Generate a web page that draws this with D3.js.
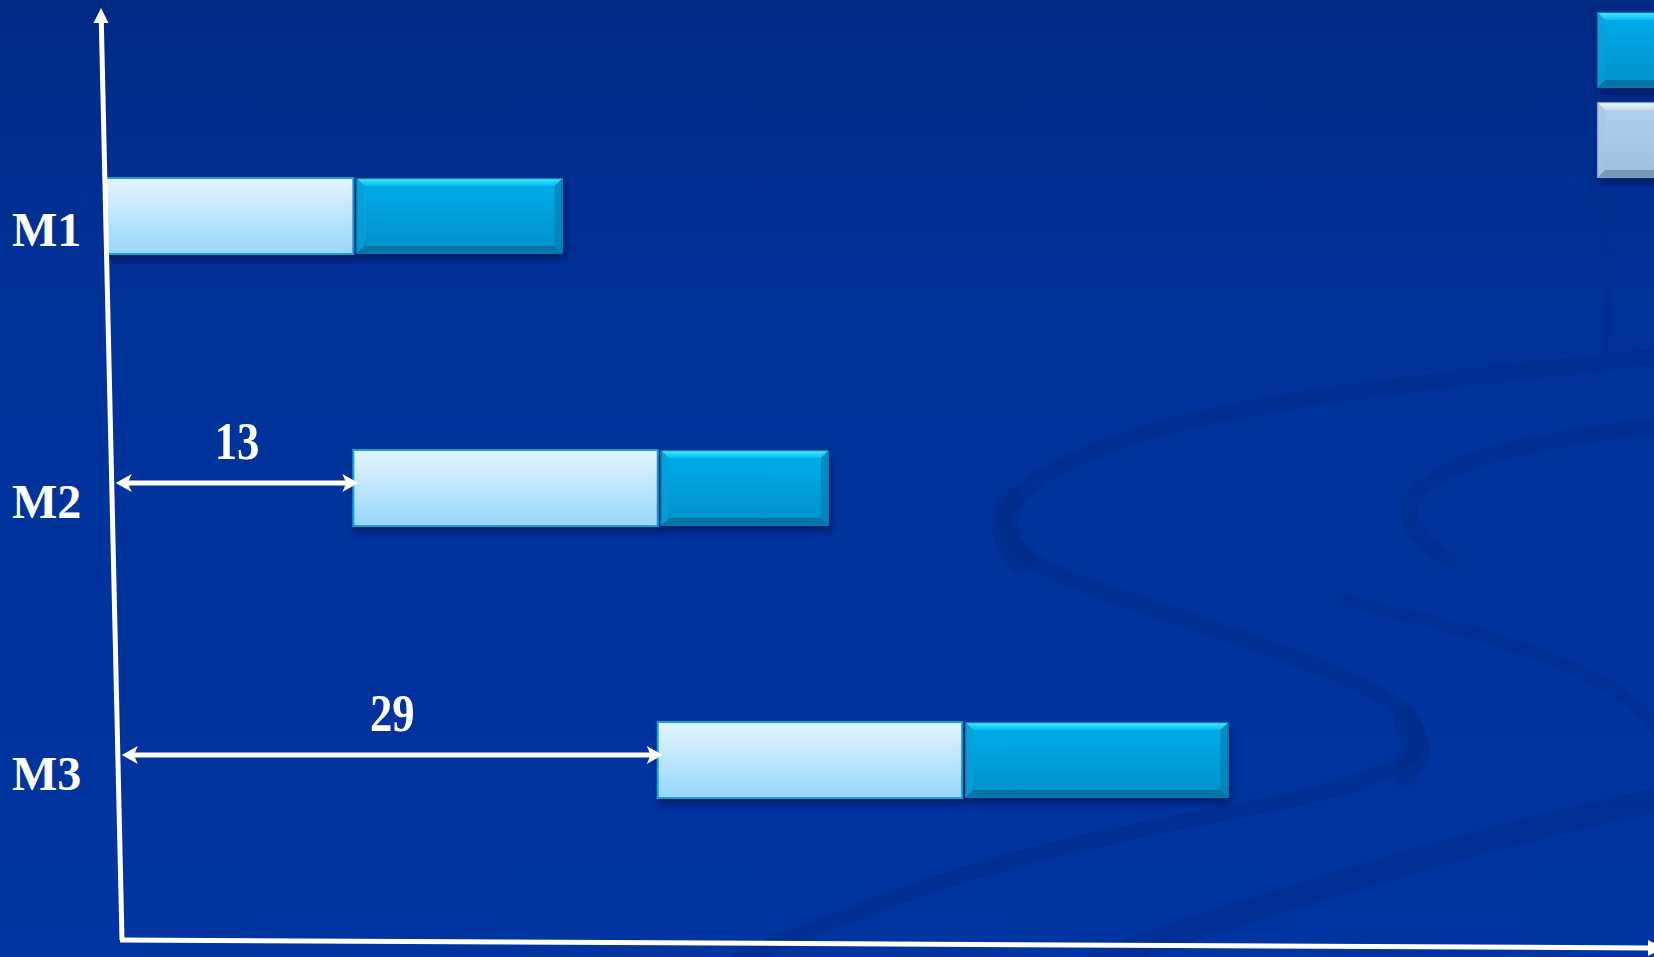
<!DOCTYPE html>
<html>
<head>
<meta charset="utf-8">
<script src="https://cdn.jsdelivr.net/npm/d3@7/dist/d3.min.js"></script>
<style>
  body { margin: 0; background: #00319a; overflow: hidden; }
  text { font-family: "Times New Roman", "Liberation Serif", serif; font-weight: bold; fill: #fff; }
</style>
</head>
<body>
<div id="chart"></div>
<script>
// rows of the chart and the time spans of each bar (in time units)
const machines = ["M1", "M2", "M3"];
const lightStart = [0, 13, 29];
const lightEnd = [13, 29, 45];
const darkStart = [13, 29, 45];
const darkEnd = [24, 38, 59];
// the two legend swatches at the top right (their labels fall off the slide)
const legendKeys = ["dark", "light"];

const width = 1654, height = 957;
const barH = 76;

let svg = d3.select("#chart").append("svg")
    .attr("width", width)
    .attr("height", height);

let x = d3.scaleLinear()
    .domain([0, 80])
    .range([106, 1628]);

let y = d3.scalePoint()
    .domain(machines)
    .range([216, 760]);

// the vertical axis leans a little to the right
let axisAt = d3.scaleLinear()
    .domain([8, 940])
    .range([101, 122]);

let defs = svg.append("defs");

function vGrad(id, stops) {
    let g = defs.append("linearGradient").attr("id", id)
        .attr("x1", 0).attr("y1", 0).attr("x2", 0).attr("y2", 1);
    stops.forEach(s => g.append("stop").attr("offset", s[0]).attr("stop-color", s[1]));
}
vGrad("bg", [[0, "#012a85"], [0.35, "#00329a"], [1, "#0034a0"]]);
vGrad("lightFill", [[0, "#e3f5fd"], [1, "#97d6fb"]]);
vGrad("darkFill", [[0, "#05aeec"], [1, "#038fca"]]);
vGrad("darkTop", [[0, "#3ef2ff"], [1, "#0cb8f0"]]);
vGrad("greyFill", [[0, "#b4d2ee"], [1, "#9fbedb"]]);
vGrad("greyTop", [[0, "#f0f8ff"], [1, "#c2dcf2"]]);

let shadow = defs.append("filter").attr("id", "shadow")
    .attr("x", "-5%").attr("y", "-20%").attr("width", "115%").attr("height", "160%");
shadow.append("feDropShadow")
    .attr("dx", 2).attr("dy", 5).attr("stdDeviation", 3)
    .attr("flood-color", "#001450").attr("flood-opacity", 0.7);

// background
svg.append("rect")
    .attr("width", width).attr("height", height)
    .attr("fill", "url(#bg)");

// faint swirls in the background
let swirl = d3.line().curve(d3.curveBasis);
let swirls = [
    { w: 16, o: 0.35, p: [[1700, 352], [1264, 398], [1085, 448], [1008, 497], [999, 528], [1030, 565], [1100, 592], [1219, 630], [1354, 678], [1412, 712], [1424, 745], [1395, 772], [1300, 800], [1174, 822], [950, 872], [738, 960]] },
    { w: 26, o: 0.3, p: [[1010, 500], [1000, 530], [1020, 560]] },
    { w: 24, o: 0.3, p: [[1405, 720], [1425, 750], [1405, 775]] },
    { w: 16, o: 0.3, p: [[1700, 420], [1534, 441], [1444, 468], [1402, 504], [1414, 536], [1450, 560]] },
    { w: 12, o: 0.25, p: [[1340, 600], [1450, 625], [1560, 660], [1640, 700], [1680, 760]] },
    { w: 24, o: 0.3, p: [[1700, 790], [1500, 835], [1264, 905], [1100, 960]] },
    { w: 6, o: 0.2, p: [[1600, 205], [1610, 260], [1606, 350]] }
];
swirls.forEach(s => {
    svg.append("path")
        .attr("d", swirl(s.p))
        .attr("fill", "none")
        .attr("stroke", "#00287e")
        .attr("stroke-opacity", s.o)
        .attr("stroke-width", s.w)
        .attr("stroke-linecap", "round");
});

// box with bevelled edges
function bevelBox(x0, y0, w, h, c) {
    let b = 8;
    let g = svg.append("g");
    g.append("rect")
        .attr("x", x0).attr("y", y0)
        .attr("width", w).attr("height", h)
        .attr("fill", c.fill)
        .attr("filter", "url(#shadow)");
    let faces = [
        [[[x0, y0], [x0 + w, y0], [x0 + w - b, y0 + b], [x0 + b, y0 + b]], c.top, 1],
        [[[x0, y0 + h], [x0 + w, y0 + h], [x0 + w - b, y0 + h - b], [x0 + b, y0 + h - b]], c.bottom, 0.8],
        [[[x0, y0], [x0 + b, y0 + b], [x0 + b, y0 + h - b], [x0, y0 + h]], c.left, 0.6],
        [[[x0 + w, y0], [x0 + w - b, y0 + b], [x0 + w - b, y0 + h - b], [x0 + w, y0 + h]], c.right, 0.7]
    ];
    faces.forEach(f => {
        g.append("path")
            .attr("d", "M" + f[0].join("L") + "Z")
            .attr("fill", f[1])
            .attr("opacity", f[2]);
    });
    g.append("rect")
        .attr("x", x0 + 0.5).attr("y", y0 + 0.5)
        .attr("width", w - 1).attr("height", h - 1)
        .attr("fill", "none")
        .attr("stroke", c.edge)
        .attr("stroke-width", 1.2);
}

let darkStyle = { fill: "url(#darkFill)", top: "url(#darkTop)", bottom: "#066b9a", left: "#0a9ed6", right: "#067fb5", edge: "#0a78aa" };
let greyStyle = { fill: "url(#greyFill)", top: "url(#greyTop)", bottom: "#6f8eae", left: "#a6c4e2", right: "#86a6c6", edge: "#7f9dbd" };

// bars
for (let i = 0; i < machines.length; i++) {
    let yc = y(machines[i]);
    let top = yc - barH / 2;

    // light bar
    svg.append("rect")
        .attr("x", x(lightStart[i]))
        .attr("y", top)
        .attr("width", x(lightEnd[i]) - x(lightStart[i]))
        .attr("height", barH)
        .attr("fill", "url(#lightFill)")
        .attr("stroke", "#15a0d8")
        .attr("stroke-width", 2)
        .attr("filter", "url(#shadow)");

    // dark bar
    bevelBox(x(darkStart[i]) + 3, top, x(darkEnd[i]) - x(darkStart[i]) - 3, barH, darkStyle);

    // machine label
    svg.append("text")
        .attr("x", 12)
        .attr("y", yc + 30)
        .attr("font-size", 48)
        .text(machines[i]);
}

// offset arrows from the axis to where each row starts
function arrowHead(tipX, ay, dir) {
    let l = 16, hw = 9;
    svg.append("path")
        .attr("d", `M${tipX},${ay}L${tipX - dir * l},${ay - hw}L${tipX - dir * (l - 4)},${ay}L${tipX - dir * l},${ay + hw}Z`)
        .attr("fill", "#fff");
}
for (let i = 0; i < machines.length; i++) {
    if (lightStart[i] <= 0) continue;
    let ay = y(machines[i]) - 5;
    let x1 = axisAt(ay) + 4;
    let x2 = x(lightStart[i]) + 5;
    svg.append("line")
        .attr("x1", x1 + 10).attr("y1", ay)
        .attr("x2", x2 - 10).attr("y2", ay)
        .attr("stroke", "#fff")
        .attr("stroke-width", 5);
    arrowHead(x1, ay, -1);
    arrowHead(x2, ay, 1);

    let mx = (x1 + x2) / 2;
    svg.append("text")
        .attr("transform", `translate(${mx},${ay - 24}) scale(0.86,1)`)
        .attr("text-anchor", "middle")
        .attr("font-size", 52)
        .text(lightStart[i]);
}

// axes
svg.append("line")
    .attr("x1", axisAt(22)).attr("y1", 22)
    .attr("x2", axisAt(940)).attr("y2", 940)
    .attr("stroke", "#fff")
    .attr("stroke-width", 5);
svg.append("path")
    .attr("d", `M${axisAt(8)},8L${axisAt(8) + 7.5},23L${axisAt(8) - 7.5},23Z`)
    .attr("fill", "#fff");

svg.append("line")
    .attr("x1", axisAt(940) - 2).attr("y1", 940)
    .attr("x2", 1650).attr("y2", 948)
    .attr("stroke", "#fff")
    .attr("stroke-width", 5);
svg.append("path")
    .attr("d", "M1664,948L1648,940L1648,956Z")
    .attr("fill", "#fff");

// legend swatches, cut off by the right edge
legendKeys.forEach((k, i) => {
    bevelBox(1597, 12 + i * 90, 90, barH, k == "dark" ? darkStyle : greyStyle);
});
</script>
</body>
</html>
